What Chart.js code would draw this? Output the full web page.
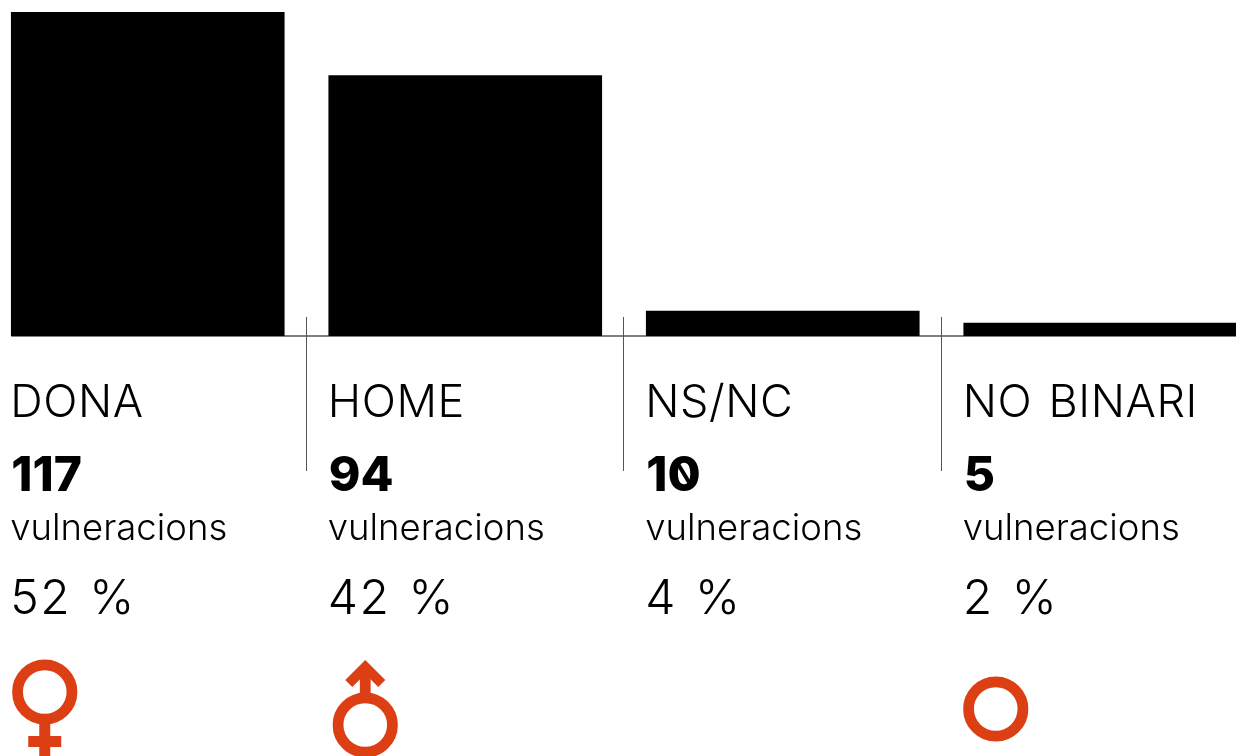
<!DOCTYPE html>
<html>
<head>
<meta charset="utf-8">
<script src="https://cdn.jsdelivr.net/npm/chart.js@4"></script>
<style>
html, body { margin: 0; background: #fff; overflow: hidden; width: 1236px; height: 756px; }
#wrap { position: absolute; left: -11px; top: 0; width: 1270px; height: 756px; }
</style>
</head>
<body>
<div id="wrap"><canvas id="chart" width="1270" height="756"></canvas></div>
<script>
// chart data
const categories = ["DONA", "HOME", "NS/NC", "NO BINARI"];
// bar heights (the NS/NC bar is drawn a bit shorter than its label)
const bar_values = [117, 94, 9, 4.7];
const count_labels = ["117", "94", "10", "5"];
const unit_labels = ["vulneracions", "vulneracions", "vulneracions", "vulneracions"];
const percent_labels = ["52 %", "42 %", "4 %", "2 %"];
const symbols = ["female", "male", null, "ring"];

const ORANGE = "#dc3f14";
const LINE = "#555";
const FONT = 'Inter, "Noto Sans", sans-serif';

// text and gender signs under each bar
function drawRing(ctx, x, y) {
	ctx.beginPath();
	ctx.arc(x, y, 27.2, 0, Math.PI * 2);
	ctx.lineWidth = 10.8;
	ctx.strokeStyle = ORANGE;
	ctx.stroke();
}

function drawSymbol(ctx, name, left) {
	ctx.fillStyle = ORANGE;
	if (name == "female") {
		drawRing(ctx, left + 33.5, 692);
		ctx.fillRect(left + 28, 724, 11, 32);
		ctx.fillRect(left + 17, 736, 33, 11);
	}
	if (name == "male") {
		let cx = left + 36.5;
		drawRing(ctx, cx, 725);
		ctx.fillRect(cx - 5.4, 672, 10.8, 26);
		ctx.beginPath();
		ctx.moveTo(cx, 660);
		ctx.lineTo(cx + 20, 680);
		ctx.lineTo(cx + 13, 687);
		ctx.lineTo(cx, 674);
		ctx.lineTo(cx - 13, 687);
		ctx.lineTo(cx - 20, 680);
		ctx.closePath();
		ctx.fill();
	}
	if (name == "ring") {
		drawRing(ctx, left + 32, 709);
	}
}

// the bold figures have a slashed zero
function drawCount(ctx, text, left, y) {
	ctx.fillText(text, left, y);
	let zero = text.indexOf("0");
	if (zero < 0) return;
	let start = left + ctx.measureText(text.slice(0, zero)).width;
	let w = ctx.measureText("0").width;
	ctx.strokeStyle = "#000";
	ctx.lineWidth = 4;
	ctx.beginPath();
	ctx.moveTo(start + w * 0.3, y - 28);
	ctx.lineTo(start + w * 0.7, y - 6);
	ctx.stroke();
}

const labelsPlugin = {
	id: "labelsPlugin",
	beforeDatasetsDraw(chart) {
		const ctx = chart.ctx;
		const first = chart.getDatasetMeta(0).data[0];
		// axis line
		ctx.save();
		ctx.strokeStyle = LINE;
		ctx.lineWidth = 1.5;
		ctx.beginPath();
		ctx.moveTo(first.x - first.width / 2, 336);
		ctx.lineTo(chart.width, 336);
		ctx.stroke();
		ctx.restore();
	},
	afterDraw(chart) {
		const ctx = chart.ctx;
		const bars = chart.getDatasetMeta(0).data;
		const x_scale = chart.scales.x;
		ctx.save();

		categories.forEach((cat, i) => {
			let left = bars[i].x - bars[i].width / 2;
			let text_x = left - 1;
			ctx.textAlign = "left";
			ctx.textBaseline = "alphabetic";
			ctx.fillStyle = "#000";

			ctx.font = '300 45px ' + FONT;
			ctx.letterSpacing = "0.6px";
			ctx.wordSpacing = "3px";
			ctx.fillText(cat, text_x, 417);
			ctx.letterSpacing = "0px";
			ctx.wordSpacing = "0px";

			ctx.font = '800 48px ' + FONT;
			drawCount(ctx, count_labels[i], left, 491);

			ctx.font = '300 36.5px ' + FONT;
			ctx.fillStyle = "#000";
			ctx.fillText(unit_labels[i], text_x, 540);

			ctx.font = '300 48px ' + FONT;
			ctx.letterSpacing = "1.5px";
			ctx.wordSpacing = "3px";
			ctx.fillText(percent_labels[i], text_x, 614);
			ctx.letterSpacing = "0px";
			ctx.wordSpacing = "0px";

			drawSymbol(ctx, symbols[i], left);

			// separators between the categories
			if (i > 0) {
				let sep = Math.round(x_scale.getPixelForValue(i) - x_scale.width / categories.length / 2) - 0.5;
				ctx.strokeStyle = LINE;
				ctx.lineWidth = 1;
				ctx.beginPath();
				ctx.moveTo(sep, 317);
				ctx.lineTo(sep, 471);
				ctx.stroke();
			}
		});
		ctx.restore();
	}
};

new Chart(document.getElementById("chart"), {
	type: "bar",
	data: {
		labels: categories,
		datasets: [{
			data: bar_values,
			backgroundColor: "#000",
			borderWidth: 0,
			barThickness: 273
		}]
	},
	options: {
		responsive: false,
		animation: false,
		layout: { padding: { top: 12, bottom: 420, left: 0, right: 0 } },
		plugins: { legend: { display: false }, tooltip: { enabled: false } },
		scales: {
			x: { display: false },
			y: { display: false, min: 0, max: 117 }
		}
	},
	plugins: [labelsPlugin]
});
</script>
</body>
</html>
